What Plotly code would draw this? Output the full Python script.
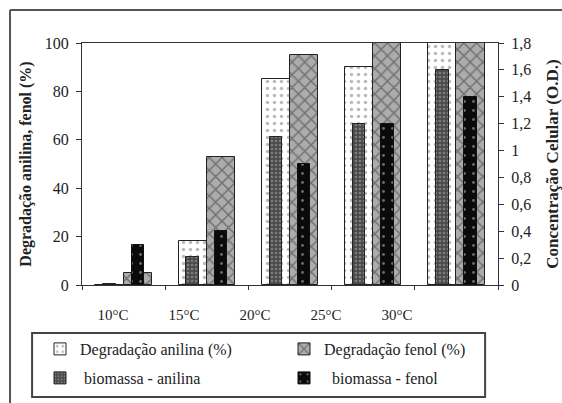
import plotly.graph_objects as go

# Temperatures and measured values
temps = ["10°C", "15°C", "20°C", "25°C", "30°C"]
deg_anilina = [0, 18, 85, 90, 100]        # Degradação anilina (%)
deg_fenol = [5, 53, 95, 100, 100]         # Degradação fenol (%)
bio_anilina = [0.01, 0.21, 1.1, 1.2, 1.6]  # biomassa - anilina (O.D.)
bio_fenol = [0.3, 0.4, 0.9, 1.2, 1.4]     # biomassa - fenol (O.D.)

FONT = "Liberation Serif, Times New Roman, serif"
WIDE = 0.34
NARROW = 0.15

fig = go.Figure()

fig.add_trace(go.Bar(
    x=temps, y=deg_anilina, name="Degradação anilina (%)",
    width=WIDE, offset=-WIDE, legend="legend",
    marker=dict(color="white", line=dict(color="#222", width=1),
                pattern=dict(shape=".", bgcolor="white", fgcolor="#777",
                             size=7, solidity=0.2)),
))
fig.add_trace(go.Bar(
    x=temps, y=deg_fenol, name="Degradação fenol (%)",
    width=WIDE, offset=0, legend="legend2",
    marker=dict(color="#aaaaaa", line=dict(color="#222", width=1),
                pattern=dict(shape="x", bgcolor="#acacac", fgcolor="#333333",
                             size=9, solidity=0.3)),
))
fig.add_trace(go.Bar(
    x=temps, y=bio_anilina, name=" biomassa - anilina", yaxis="y2",
    width=NARROW, offset=-WIDE / 2 - NARROW / 2, legend="legend3",
    marker=dict(color="#555", line=dict(color="#222", width=1),
                pattern=dict(shape=".", bgcolor="#4a4a4a", fgcolor="#b0b0b0",
                             size=4, solidity=0.35)),
))
fig.add_trace(go.Bar(
    x=temps, y=bio_fenol, name="  biomassa - fenol", yaxis="y2",
    width=NARROW, offset=WIDE / 2 - NARROW / 2, legend="legend4",
    marker=dict(color="black", line=dict(color="#111", width=1),
                pattern=dict(shape=".", bgcolor="#0a0a0a", fgcolor="#cccccc",
                             size=9, solidity=0.08)),
))
# carrier for the temperature label axis
fig.add_trace(go.Scatter(x=temps, y=[None] * len(temps), xaxis="x3",
                         showlegend=False, hoverinfo="skip"))

legend_font = dict(family=FONT, size=16, color="#222")


def legend_at(x, y):
    return dict(xref="container", yref="container", x=x, y=y,
                xanchor="left", yanchor="middle", orientation="h",
                bgcolor="rgba(0,0,0,0)", font=legend_font)


fig.update_layout(
    width=562, height=403,
    margin=dict(l=82, r=64, t=43, b=118, autoexpand=False),
    paper_bgcolor="white", plot_bgcolor="white",
    barmode="overlay", bargap=0,
    separators=", ",
    font=dict(family=FONT, size=15, color="#222"),
    xaxis=dict(range=[-0.5, 4.5], showticklabels=False, tickson="boundaries",
               ticks="outside", ticklen=4, tickcolor="#333",
               showline=True, linecolor="#333", linewidth=1, mirror=True,
               showgrid=False, zeroline=False, automargin=False),
    xaxis3=dict(overlaying="x", anchor="y", side="bottom",
                range=[-0.437, 5.423], showline=False, ticks="",
                showgrid=False, zeroline=False, ticklabelstandoff=19,
                automargin=False,
                tickfont=dict(family=FONT, size=15, color="#222")),
    yaxis=dict(range=[0, 100], dtick=20, ticks="outside", ticklen=5,
               tickcolor="#333", showline=True, linecolor="#333",
               showgrid=False, zeroline=False, automargin=False,
               ticklabelstandoff=4,
               tickfont=dict(family=FONT, size=16),
               title=dict(text="<b>Degradação anilina, fenol (%)</b>",
                          font=dict(family=FONT, size=16), standoff=9)),
    yaxis2=dict(range=[0, 1.8], dtick=0.2, overlaying="y", side="right",
                ticks="outside", ticklen=5, tickcolor="#333",
                showline=True, linecolor="#333", automargin=False,
                showgrid=False, zeroline=False, ticklabelstandoff=4,
                tickfont=dict(family=FONT, size=16),
                title=dict(text="<b>Concentração Celular (O.D.)</b>",
                           font=dict(family=FONT, size=17), standoff=15)),
    legend=legend_at(40 / 562, 1 - 349 / 403),
    legend2=legend_at(284 / 562, 1 - 349 / 403),
    legend3=legend_at(40 / 562, 1 - 378 / 403),
    legend4=legend_at(284 / 562, 1 - 378 / 403),
    shapes=[
        # legend frame
        dict(type="rect", xref="paper", yref="paper",
             x0=-0.120, x1=0.969, y0=-0.463, y1=-0.198,
             line=dict(color="#444", width=2)),
        # outer figure frame (top and left)
        dict(type="line", xref="paper", yref="paper",
             x0=-0.173, x1=1.2, y0=1.136, y1=1.136,
             line=dict(color="#555", width=2)),
        dict(type="line", xref="paper", yref="paper",
             x0=-0.173, x1=-0.173, y0=1.136, y1=-0.6,
             line=dict(color="#555", width=2)),
    ],
)

fig.write_html("out.html")
